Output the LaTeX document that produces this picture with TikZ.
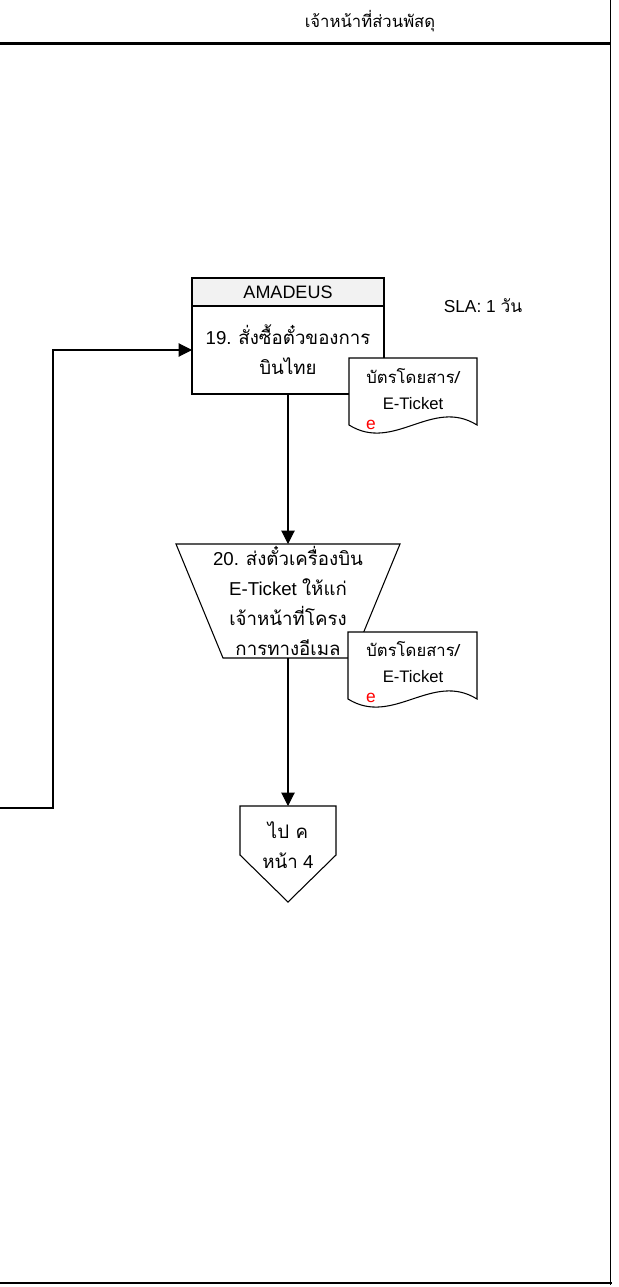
\documentclass[tikz,border=0pt]{standalone}
\usepackage{fontspec}
\setmainfont{Liberation Sans}
\newfontfamily\thaifont[Script=Thai]{Loma}
\newcommand\thai[1]{{\thaifont #1}}
\usetikzlibrary{arrows.meta,calc}

\begin{document}
\begin{tikzpicture}[x=0.75pt,y=-0.75pt,
  lane/.style={line width=1.6pt},
  border/.style={line width=1pt},
  outline/.style={draw=black,line width=0.8pt},
  flow/.style={draw=black,line width=0.8pt,-{Triangle[length=10pt,width=10pt]}},
  txt/.style={align=center,font=\fontsize{14}{22.5}\selectfont},
  doctxt/.style={align=center,font=\fontsize{12.5}{19.5}\selectfont},
  inner sep=0pt, outer sep=0pt]
\useasboundingbox (0,0) rectangle (618,1287);

% swimlane header and frame
\node[font=\fontsize{12.5}{16}\selectfont] (lanehead) at (370,21) {\thai{เจ้าหน้าที่ส่วนพัสดุ}};
\draw[lane] (0,43.5) -- (611,43.5);
\draw[border] (610.5,0) -- (610.5,1285);
\draw[lane] (0,1283) -- (612,1283);

% step 19: process with system band
\node[outline, fill=gray!10, minimum width=144pt, minimum height=21pt, anchor=north west,
      font=\fontsize{13.5}{16}\selectfont] (sys) at (192,278) {AMADEUS};
\node[outline, minimum width=144pt, minimum height=66pt, anchor=north west, txt] (buy) at (192,306)
  {19. \thai{สั่งซื้อตั๋วของการ}\\\thai{บินไทย}};

% document attached to step 19
\node[minimum width=96pt, minimum height=50.25pt, anchor=north west] (ticketA) at (349,358) {};
\draw[outline, fill=white] (ticketA.north west) -- (ticketA.north east) -- (ticketA.south east)
  .. controls +(-45,-28) and +(45,28) .. (ticketA.south west) -- cycle;
\node[doctxt] (ticketAtext) at (413,389) {\thai{บัตรโดยสาร/}\\E-Ticket};
\node[text=red, font=\fontsize{13}{13}\selectfont] (eA) at (371,425) {e};

\node[font=\fontsize{13}{15}\selectfont] (sla) at (483,306) {SLA: 1 \thai{วัน}};

% step 20: manual operation
\node[minimum width=168pt, minimum height=85.5pt, txt] (send) at (288,601)
  {20. \thai{ส่งตั๋วเครื่องบิน}\\E-Ticket \thai{ให้แก่}\\\thai{เจ้าหน้าที่โครง}\\\thai{การทางอีเมล}};
\draw[outline] (send.north west) -- (send.north east) -- ([xshift=-35.25pt]send.south east)
  -- ([xshift=35.25pt]send.south west) -- cycle;

% document attached to step 20
\node[minimum width=96.75pt, minimum height=50.25pt, anchor=north west] (ticketB) at (348,632) {};
\draw[outline, fill=white] (ticketB.north west) -- (ticketB.north east) -- (ticketB.south east)
  .. controls +(-45,-28) and +(45,28) .. (ticketB.south west) -- cycle;
\node[doctxt] (ticketBtext) at (413,662) {\thai{บัตรโดยสาร/}\\E-Ticket};
\node[text=red, font=\fontsize{13}{13}\selectfont] (eB) at (371,698) {e};

% off-page connector
\node[minimum width=72pt, minimum height=72pt, anchor=north] (goto) at (288,806) {};
\draw[outline] (goto.north west) -- (goto.north east) -- ++(0,49) -- (goto.south)
  -- ($(goto.north west)+(0,49)$) -- cycle;
\node[txt] (gototext) at (288,845) {\thai{ไป ค}\\\thai{หน้า} 4};

% connectors
\coordinate (loopin) at (0,808);
\draw[flow] (loopin) -- ++(53,0) |- (buy.west);
\draw[flow] (buy.south) -- (send.north);
\draw[flow] (send.south) -- (goto.north);
\end{tikzpicture}
\end{document}
